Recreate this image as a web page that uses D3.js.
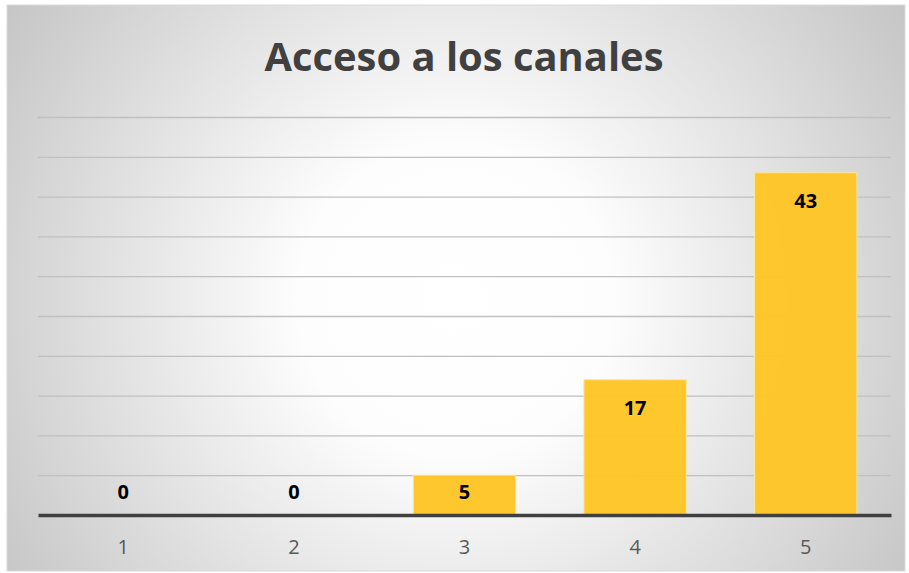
<!DOCTYPE html>
<html>
<head>
<meta charset="utf-8">
<script src="https://cdn.jsdelivr.net/npm/d3@7"></script>
<style>
  body { margin: 0; background: #fff; }
  svg { display: block; }
</style>
</head>
<body>
<svg id="chart" width="909" height="573"></svg>
<script>
var categories = ["1", "2", "3", "4", "5"];
var values = [0, 0, 5, 17, 43];
var yTicks = [0, 5, 10, 15, 20, 25, 30, 35, 40, 45, 50];
var title = "Acceso a los canales";

var W = 909, H = 573;
var margin = {top: 117, right: 18, bottom: 58, left: 38};
var width = W - margin.left - margin.right,
  height = H - margin.top - margin.bottom;

var svg = d3.select("#chart");

// background with radial shading
var defs = svg.append("defs");
var grad = defs.append("radialGradient")
  .attr("id", "bg")
  .attr("gradientUnits", "userSpaceOnUse")
  .attr("cx", 455).attr("cy", 300).attr("r", 560);
grad.append("stop").attr("offset", "0%").attr("stop-color", "#ffffff");
grad.append("stop").attr("offset", "28%").attr("stop-color", "#fdfdfd");
grad.append("stop").attr("offset", "100%").attr("stop-color", "#c2c2c2");

svg.append("rect")
  .attr("x", 7).attr("y", 5)
  .attr("width", 898).attr("height", 566)
  .attr("fill", "url(#bg)")
  .attr("stroke", "#d9d9d9")
  .attr("stroke-width", 1);

svg.append("text")
  .attr("x", 464).attr("y", 71)
  .attr("text-anchor", "middle")
  .attr("font-family", "'Open Sans', sans-serif")
  .attr("font-weight", 700)
  .attr("font-size", 40)
  .attr("textLength", 399)
  .attr("lengthAdjust", "spacingAndGlyphs")
  .attr("fill", "#404040")
  .text(title);

var g = svg.append("g")
  .attr("transform", "translate(" + margin.left + "," + margin.top + ")");

var x = d3.scaleBand()
  .domain(categories)
  .range([0, width])
  .paddingInner(0.4)
  .paddingOuter(0.2);

var y = d3.scaleLinear()
  .domain([0, 50])
  .range([height, 0]);

// gridlines
g.append("g")
  .call(d3.axisLeft(y).tickValues(yTicks.slice(1)).tickSize(-width).tickFormat(""))
  .call(function(a) { a.select(".domain").remove(); })
  .selectAll("line")
  .attr("stroke", "#c0c0c0")
  .attr("stroke-width", 1.3);

// bars
g.selectAll("rect.bar")
  .data(values)
  .enter().append("rect")
  .attr("class", "bar")
  .attr("x", function(d, i) { return x(categories[i]); })
  .attr("y", function(d) { return y(d); })
  .attr("width", x.bandwidth())
  .attr("height", function(d) { return height - y(d); })
  .attr("fill", "#fdc526")
  .attr("fill-opacity", 0.97)
  .attr("stroke", "#fbe6a8")
  .attr("stroke-width", function(d) { return d > 0 ? 1 : 0; });

// value labels
g.selectAll("text.val")
  .data(values)
  .enter().append("text")
  .attr("class", "val")
  .attr("x", function(d, i) { return x(categories[i]) + x.bandwidth() / 2; })
  .attr("y", function(d) { return Math.min(y(d) + 35, y(0) - 16); })
  .attr("text-anchor", "middle")
  .attr("font-family", "'Open Sans', sans-serif")
  .attr("font-weight", 700)
  .attr("font-size", 20)
  .attr("fill", "#000")
  .text(function(d) { return d; });

// x axis
var xAxis = g.append("g")
  .attr("transform", "translate(0," + height + ")")
  .call(d3.axisBottom(x).tickSize(0));
xAxis.select(".domain")
  .attr("stroke", "#404040")
  .attr("stroke-width", 3.5);
xAxis.selectAll("text")
  .attr("y", 39)
  .attr("dy", 0)
  .attr("font-family", "'Open Sans', sans-serif")
  .attr("font-size", 20)
  .attr("fill", "#595959");
</script>
</body>
</html>
